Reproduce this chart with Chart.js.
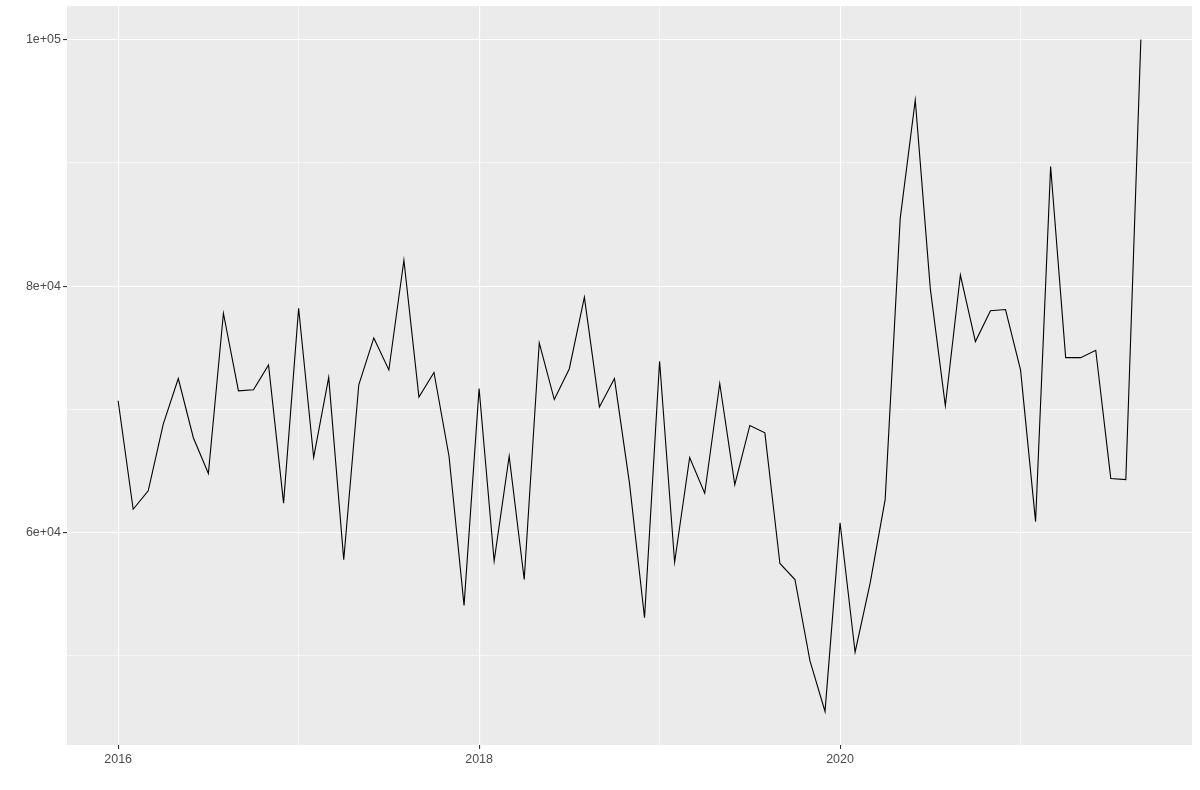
<!DOCTYPE html>
<html>
<head>
<meta charset="utf-8">
<script src="https://cdn.jsdelivr.net/npm/chart.js@4/dist/chart.umd.min.js"></script>
<style>
  html, body { margin: 0; padding: 0; background: #fff; }
  canvas { display: block; }
</style>
</head>
<body>
<canvas id="chart" width="1200" height="790"></canvas>
<script>
// monthly series, Jan 2016 .. Sep 2021
const START_YEAR = 2016;
const VALUES = [
  70700, 61900, 63400, 68800, 72500, 67700, 64800, 77800, 71500, 71600, 73600, 62400,
  78200, 66100, 72600, 57800, 72000, 75800, 73200, 82100, 71000, 73000, 66200, 54100,
  71700, 57700, 66200, 56200, 75400, 70800, 73300, 79100, 70200, 72500, 64000, 53100,
  73900, 57600, 66100, 63200, 72100, 63900, 68700, 68100, 57500, 56200, 49600, 45500,
  60800, 50300, 55900, 62700, 85500, 95100, 79800, 70300, 80900, 75500, 78000, 78100,
  73200, 60900, 89700, 74200, 74200, 74800, 64400, 64300, 100000
];

const X_MAJOR_YEARS = [2016, 2018, 2020];
const X_MINOR_YEARS = [2017, 2019, 2021];
const Y_MAJOR = [60000, 80000, 100000];
const Y_MAJOR_LABELS = ["6e+04", "8e+04", "1e+05"];
const Y_MINOR = [50000, 70000, 90000];

const BG = "#EBEBEB";
const TEXT = "#4D4D4D";
const FONT = { family: "'Liberation Sans', Arial, sans-serif", size: 12.5 };

const points = VALUES.map((v, i) => ({ x: i, y: v }));
const yearToX = y => (y - START_YEAR) * 12;

// ggplot style 5% expansion
const xSpan = VALUES.length - 1;
const yMin = Math.min(...VALUES), yMax = Math.max(...VALUES);
const yPad = (yMax - yMin) * 0.05;

const xMajor = X_MAJOR_YEARS.map(yearToX);
const xAll = [...X_MAJOR_YEARS, ...X_MINOR_YEARS].map(yearToX).sort((a, b) => a - b);
const yAll = [...Y_MAJOR, ...Y_MINOR].sort((a, b) => a - b);

const panelBg = {
  id: "panelBg",
  beforeDraw(chart) {
    const { ctx, chartArea: a } = chart;
    ctx.save();
    ctx.fillStyle = BG;
    ctx.fillRect(a.left, a.top, a.right - a.left, a.bottom - a.top);
    ctx.restore();
  }
};

new Chart(document.getElementById("chart").getContext("2d"), {
  type: "line",
  data: {
    datasets: [{
      data: points,
      borderColor: "#000",
      borderWidth: 1.1,
      pointRadius: 0,
      tension: 0,
      fill: false
    }]
  },
  options: {
    responsive: false,
    animation: false,
    devicePixelRatio: 1,
    layout: { padding: { top: 6, right: 8, left: 0, bottom: 0 } },
    plugins: { legend: { display: false }, tooltip: { enabled: false } },
    scales: {
      x: {
        type: "linear",
        min: -xSpan * 0.05,
        max: xSpan * 1.05,
        afterBuildTicks: axis => { axis.ticks = xAll.map(v => ({ value: v })); },
        afterFit: axis => {
          axis.height = 45;
          axis.paddingLeft = 0;
          axis.paddingRight = 0;
        },
        ticks: {
          autoSkip: false,
          maxRotation: 0,
          padding: 3,
          color: TEXT,
          font: FONT,
          callback: v => xMajor.includes(v) ? String(START_YEAR + v / 12) : ""
        },
        grid: {
          color: "#fff",
          lineWidth: c => xMajor.includes(c.tick?.value) ? 1.1 : 0.55,
          tickColor: c => xMajor.includes(c.tick?.value) ? "#333" : "rgba(0,0,0,0)",
          tickLength: 4
        },
        border: { display: false }
      },
      y: {
        min: yMin - yPad,
        max: yMax + yPad,
        afterBuildTicks: axis => { axis.ticks = yAll.map(v => ({ value: v })); },
        afterFit: axis => {
          axis.width = 67;
          axis.paddingTop = 0;
          axis.paddingBottom = 0;
        },
        ticks: {
          autoSkip: false,
          padding: 2,
          color: TEXT,
          font: FONT,
          callback: v => {
            const k = Y_MAJOR.indexOf(v);
            return k >= 0 ? Y_MAJOR_LABELS[k] : "";
          }
        },
        grid: {
          color: "#fff",
          lineWidth: c => Y_MAJOR.includes(c.tick?.value) ? 1.1 : 0.55,
          tickColor: c => Y_MAJOR.includes(c.tick?.value) ? "#333" : "rgba(0,0,0,0)",
          tickLength: 4
        },
        border: { display: false }
      }
    }
  },
  plugins: [panelBg]
});
</script>
</body>
</html>
